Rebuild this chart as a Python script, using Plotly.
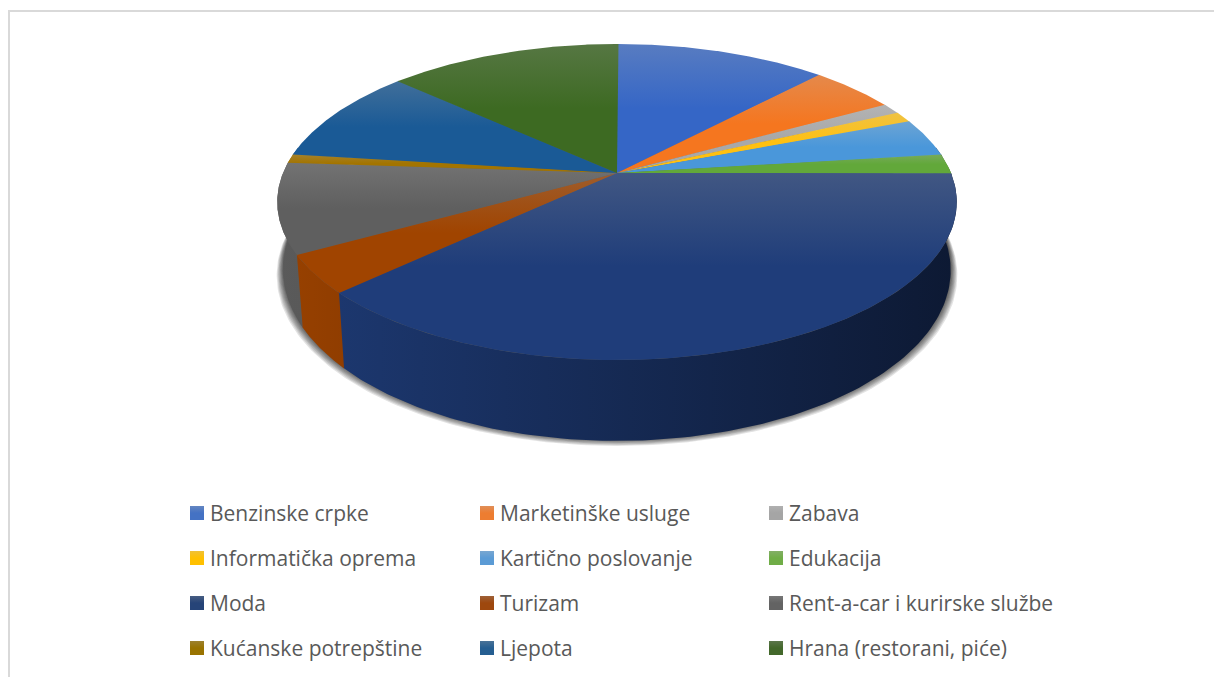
import numpy as np
import plotly.graph_objects as go

# ---- data ----
categories = ["Benzinske crpke", "Marketinške usluge", "Zabava",
              "Informatička oprema", "Kartično poslovanje", "Edukacija",
              "Moda", "Turizam", "Rent-a-car i kurirske službe",
              "Kućanske potrepštine", "Ljepota", "Hrana (restorani, piće)"]
values = [12.0, 4.9, 1.1, 1.1, 3.9, 2.0, 37.9, 3.9, 9.2, 0.9, 9.8, 13.2]
colors = ["#3566C6", "#F5761F", "#A8A8A8", "#FFC010", "#4A97DA", "#62A83A",
          "#1F3D7A", "#A04400", "#5F5F5F", "#A37400", "#1A5A96", "#3D6A22"]
key_colors = ["#4472C4", "#ED7D31", "#A5A5A5", "#FFC000", "#5B9BD5", "#70AD47",
              "#264478", "#9E480E", "#636363", "#997300", "#255E91", "#43682B"]

# ---- projection of the tilted pie ----
CX, CY = 617.0, 173.0
A, B, K = 334.0, 152.7, 0.1836
H, BASE_X = 66.0, 0.982
OVERLAP = np.radians(0.3)


def project(theta, base=False):
    """theta in radians, clockwise from the back of the pie."""
    u, v = np.sin(theta), np.cos(theta)
    w = 1.0 / (1.0 + K * v)
    x = A * u * w
    y = CY - B * v * w
    if base:
        x = x * BASE_X
        y = y + H * w
    return CX + x, y


def rgb(c):
    return tuple(int(c[i:i + 2], 16) for i in (1, 3, 5))


def css(t):
    return "rgb(%d,%d,%d)" % tuple(int(round(max(0, min(255, a)))) for a in t)


def tint(c, amount=0.28):
    r = rgb(c)
    grey = sum(r) / 3
    return css([a * (1 - amount) + (grey * 0.55 + 255 * 0.45) * amount for a in r])


def shade(c, x):
    f = 0.95 + (x - 280.0) / (950.0 - 280.0) * (0.42 - 0.95)
    return css([a * f for a in rgb(c)])


fig = go.Figure()


def polygon(xs, ys, gradient=None, color=None, name=""):
    kw = dict(x=np.round(xs, 2).tolist(), y=np.round(ys, 2).tolist(), mode="lines",
              line=dict(width=0), fill="toself", hoverinfo="skip", showlegend=False, name=name)
    if gradient is not None:
        kw["fillgradient"] = gradient
    else:
        kw["fillcolor"] = color
    fig.add_trace(go.Scatter(**kw))


edges = np.cumsum([0] + values) / sum(values) * 2 * np.pi
T = np.linspace(0, 2 * np.pi, 361)

# shadow under the pie
bx, by = project(T, base=True)
for i in range(10):
    s = (1 - i / 10) ** 1.4
    polygon(CX + (bx - CX) * (1.0 + 0.02 * s), by + 5 * s - 2 * (1 - s),
            color="rgba(40,40,40,0.13)", name="shadow")

# side walls
LO, HI = np.radians(80), np.radians(280)
for i in range(len(values)):
    a, b = max(edges[i], LO), min(edges[i + 1] + OVERLAP, HI)
    if b <= a:
        continue
    t = np.linspace(a, b, 120)
    x1, y1 = project(t)
    x2, y2 = project(t[::-1], base=True)
    xs, ys = np.r_[x1, x2, x1[:1]], np.r_[y1, y2, y1[:1]]
    polygon(xs, ys, gradient=dict(type="horizontal", start=float(xs.min()), stop=float(xs.max()),
                                  colorscale=[[0, shade(colors[i], xs.min())],
                                              [1, shade(colors[i], xs.max())]]),
            name=categories[i] + " side")

# top surface
for i, c in enumerate(colors):
    t = np.linspace(edges[i], edges[i + 1] + OVERLAP, max(8, int(values[i] * 12)))
    x, y = project(t)
    xs, ys = np.r_[CX, x, CX], np.r_[CY, y, CY]
    polygon(xs, ys, gradient=dict(type="vertical", start=float(ys.min()), stop=float(ys.max()),
                                  colorscale=[[0, tint(c)], [0.5, c], [1, c]]),
            name=categories[i])

# legend
LEG_X = [190, 480, 769]
LEG_Y = [513, 558, 603, 648]
annotations = []
for i, c in enumerate(categories):
    lx, ly = LEG_X[i % 3], LEG_Y[i // 3]
    polygon([lx, lx + 14, lx + 14, lx, lx], [ly - 7, ly - 7, ly + 7, ly + 7, ly - 7],
            gradient=dict(type="vertical", start=ly - 7, stop=ly + 7,
                          colorscale=[[0, tint(key_colors[i])], [0.5, key_colors[i]], [1, key_colors[i]]]),
            name=c + " key")
    annotations.append(dict(x=lx + 18, y=ly, text=c, xref="x", yref="y", xanchor="left", yanchor="middle",
                            showarrow=False, font=dict(family="Open Sans", size=21, color="#595959")))

frame = "#D9D9D9"
fig.update_layout(
    width=1214, height=677, margin=dict(l=0, r=0, t=0, b=0),
    paper_bgcolor="white", plot_bgcolor="white", showlegend=False,
    xaxis=dict(range=[0, 1214], visible=False, fixedrange=True),
    yaxis=dict(range=[677, 0], visible=False, fixedrange=True),
    annotations=annotations,
    shapes=[dict(type="line", x0=8, x1=1214, y0=11, y1=11, line=dict(color=frame, width=2)),
            dict(type="line", x0=9, x1=9, y0=10, y1=677, line=dict(color=frame, width=2))],
)
fig.write_html("out.html", config=dict(displayModeBar=False),
               post_script="document.body.style.margin='0';document.documentElement.style.overflow='hidden';")
